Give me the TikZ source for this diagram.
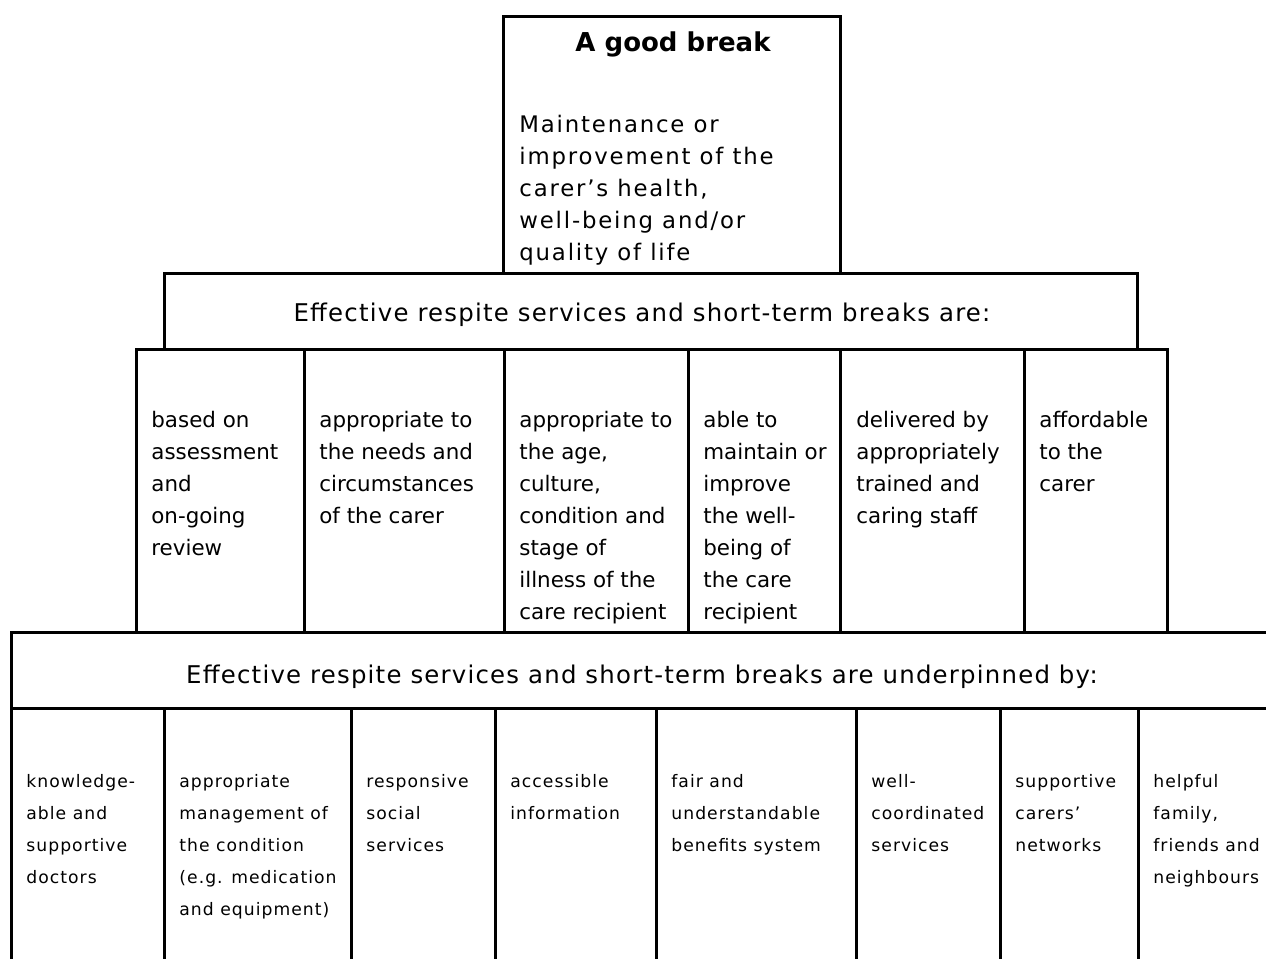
\documentclass[tikz,border=0pt]{standalone}
\usepackage{fontspec}
\setmainfont{DejaVu Sans}
\usepackage{tikz}
\usetikzlibrary{positioning}

\begin{document}
\begin{tikzpicture}[x=0.5pt, y=-0.5pt]
				\tikzstyle{Cell}	= [draw, line width=1.5pt]
				\tikzstyle{Title}	= [inner sep=0pt, anchor=base, font={\bfseries\fontsize{13}{16}\selectfont}]
				\tikzstyle{Aim}		= [inner sep=0pt, anchor=north west, align=left, font={\fontsize{11.4}{16}\selectfont\addfontfeatures{LetterSpace=8}}]
				\tikzstyle{Head}	= [inner sep=0pt, anchor=base, font={\fontsize{12.2}{16}\selectfont\addfontfeatures{LetterSpace=5}}]
				\tikzstyle{Item}	= [inner sep=0pt, anchor=north west, align=left, font={\fontsize{10.7}{16}\selectfont}]
				\tikzstyle{Small}	= [inner sep=0pt, anchor=north west, align=left, font={\fontsize{8.6}{16}\selectfont\addfontfeatures{LetterSpace=6}}]

				\useasboundingbox (0,0) rectangle (1266,959);
				\clip (0,0) rectangle (1266,959);

				% top box
				\draw [Cell] (503,16) rectangle (840,273);
				\node (good) at (673,51) [Title] {A good break};
				\node (aim) at (519,115) [Aim] {Maintenance or\\improvement of the\\carer's health,\\well-being and/or\\quality of life};

				% effective services are
				\draw [Cell] (164,273) rectangle (1137,349);
				\node (are) at (642,321) [Head] {Effective respite services and short-term breaks are:};

				\draw [Cell] (136,349) rectangle (304,632);
				\draw [Cell] (304,349) rectangle (504,632);
				\draw [Cell] (504,349) rectangle (688,632);
				\draw [Cell] (688,349) rectangle (840,632);
				\draw [Cell] (840,349) rectangle (1024,632);
				\draw [Cell] (1024,349) rectangle (1167,632);

				\node (a1) at (151,411) [Item] {based on\\assessment\\and\\on-going\\review};
				\node (a2) at (319,411) [Item] {appropriate to\\the needs and\\circumstances\\of the carer};
				\node (a3) at (519,411) [Item] {appropriate to\\the age,\\culture,\\condition and\\stage of\\illness of the\\care recipient};
				\node (a4) at (703,411) [Item] {able to\\maintain or\\improve\\the well-\\being of\\the care\\recipient};
				\node (a5) at (856,411) [Item] {delivered by\\appropriately\\trained and\\caring staff};
				\node (a6) at (1039,411) [Item] {affordable\\to the\\carer};

				% underpinned by
				\draw [Cell] (11,632) rectangle (1290,708);
				\node (by) at (642,683) [Head] {Effective respite services and short-term breaks are underpinned by:};

				\draw [Cell] (11,708) rectangle (164,990);
				\draw [Cell] (164,708) rectangle (351,990);
				\draw [Cell] (351,708) rectangle (495,990);
				\draw [Cell] (495,708) rectangle (656,990);
				\draw [Cell] (656,708) rectangle (856,990);
				\draw [Cell] (856,708) rectangle (1000,990);
				\draw [Cell] (1000,708) rectangle (1138,990);
				\draw [Cell] (1138,708) rectangle (1290,990);

				\node (u1) at (26,774) [Small] {knowledge-\\able and\\supportive\\doctors};
				\node (u2) at (179,774) [Small] {appropriate\\management of\\the condition\\(e.g. medication\\and equipment)};
				\node (u3) at (366,774) [Small] {responsive\\social\\services};
				\node (u4) at (510,774) [Small] {accessible\\information};
				\node (u5) at (671,774) [Small] {fair and\\understandable\\benefits system};
				\node (u6) at (871,774) [Small] {well-\\coordinated\\services};
				\node (u7) at (1015,774) [Small] {supportive\\carers'\\networks};
				\node (u8) at (1153,774) [Small] {helpful\\family,\\friends and\\neighbours};
			\end{tikzpicture}
\end{document}
